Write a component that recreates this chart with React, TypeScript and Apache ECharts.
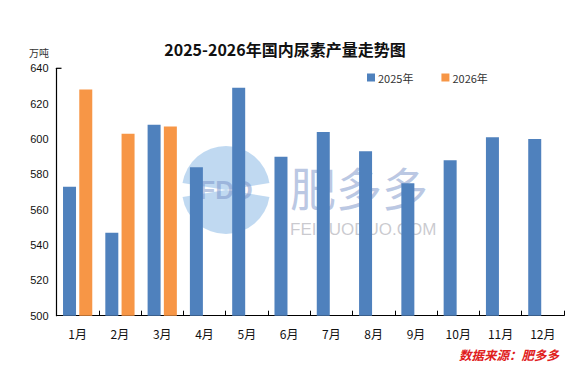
import React, { useEffect, useRef } from "react";
import * as echarts from "echarts";

const months = ["1月", "2月", "3月", "4月", "5月", "6月", "7月", "8月", "9月", "10月", "11月", "12月"];
const output2025 = [573, 547, 608, 584, 629, 590, 604, 593, 575, 588, 601, 600];
const output2026: (number | null)[] = [628, 603, 607, null, null, null, null, null, null, null, null, null];
const yTicks = { min: 500, max: 640, interval: 20 };

const titleText = "2025-2026年国内尿素产量走势图";
const unitText = "万吨";
const sourceText = "数据来源：肥多多";

export default function App() {
  const ref = useRef<HTMLDivElement>(null);
  useEffect(() => {
    if (!ref.current) return;
    const chart = echarts.init(ref.current, null, { renderer: "svg" });
    const wmColor = "rgba(120,145,200,0.5)";
    chart.setOption({
      animation: false,
      backgroundColor: "#ffffff",
      title: {
        text: titleText,
        left: "center",
        top: 36,
        textStyle: { fontFamily: "Noto Sans CJK SC", fontWeight: "bold", fontSize: 16, color: "#111" },
      },
      legend: {
        left: 362,
        top: 67,
        itemWidth: 8,
        itemHeight: 8,
        itemGap: 28,
        icon: "rect",
        textStyle: { fontFamily: "Noto Sans CJK SC", fontSize: 11, color: "#333", padding: [0, 0, 0, -2] },
        data: ["2025年", "2026年"],
      },
      grid: { left: 56.5, right: 6, top: 68.3, bottom: 61.3, containLabel: false },
      xAxis: {
        type: "category",
        data: months,
        axisLine: { lineStyle: { color: "#000", width: 1.2 } },
        axisTick: { show: true, inside: true, length: 5, lineStyle: { color: "#000" } },
        axisLabel: { color: "#111", fontSize: 12, margin: 12, fontFamily: "Noto Sans CJK SC" },
      },
      yAxis: {
        type: "value",
        min: yTicks.min,
        max: yTicks.max,
        interval: yTicks.interval,
        axisLine: { show: true, lineStyle: { color: "#000", width: 1.2 } },
        axisTick: { show: false },
        splitLine: { show: false },
        axisLabel: { color: "#111", fontSize: 11, margin: 8, fontFamily: "Arial, Liberation Sans" },
      },
      graphic: [
        {
          type: "group",
          z: -10,
          silent: true,
          children: [
            { type: "sector", shape: { cx: 226, cy: 190, r: 44, r0: 0, startAngle: Math.PI * 1.05, endAngle: Math.PI * 1.95 }, style: { fill: "rgba(140,185,230,0.55)" } },
            { type: "sector", shape: { cx: 226, cy: 190, r: 44, r0: 0, startAngle: Math.PI * 0.05, endAngle: Math.PI * 0.95 }, style: { fill: "rgba(140,185,230,0.55)" } },
            { type: "text", x: 226, y: 190, style: { text: "FDD", fill: wmColor, font: "bold 26px Arial", align: "center", verticalAlign: "middle" } },
            { type: "text", x: 290, y: 186, style: { text: "肥多多", fill: wmColor, font: "46px 'Noto Sans CJK SC'", verticalAlign: "middle" } },
            { type: "text", x: 290, y: 229, style: { text: "FEIDUODUO.COM", fill: "rgba(150,150,160,0.5)", font: "17px 'Liberation Sans'", verticalAlign: "middle" } },
          ],
        },
        { type: "text", left: 29, top: 47, style: { text: unitText, fill: "#333", font: "10px 'Noto Sans CJK SC'" } },
        { type: "line", shape: { x1: 56.5, y1: 68.3, x2: 61.5, y2: 68.3 }, style: { stroke: "#000", lineWidth: 1.2 } },
        { type: "text", right: 11, top: 348, style: { text: sourceText, fill: "#e0201c", font: "italic bold 12.5px 'Noto Sans CJK SC'" } },
      ],
      series: [
        { name: "2025年", type: "bar", data: output2025, barWidth: 13, barGap: "25%", itemStyle: { color: "#4F81BD" } },
        { name: "2026年", type: "bar", data: output2026, barWidth: 13, barGap: "25%", itemStyle: { color: "#F79646" } },
      ],
    });
    return () => chart.dispose();
  }, []);
  return <div ref={ref} style={{ width: 570, height: 377, position: "absolute", left: 0, top: 0 }} />;
}
